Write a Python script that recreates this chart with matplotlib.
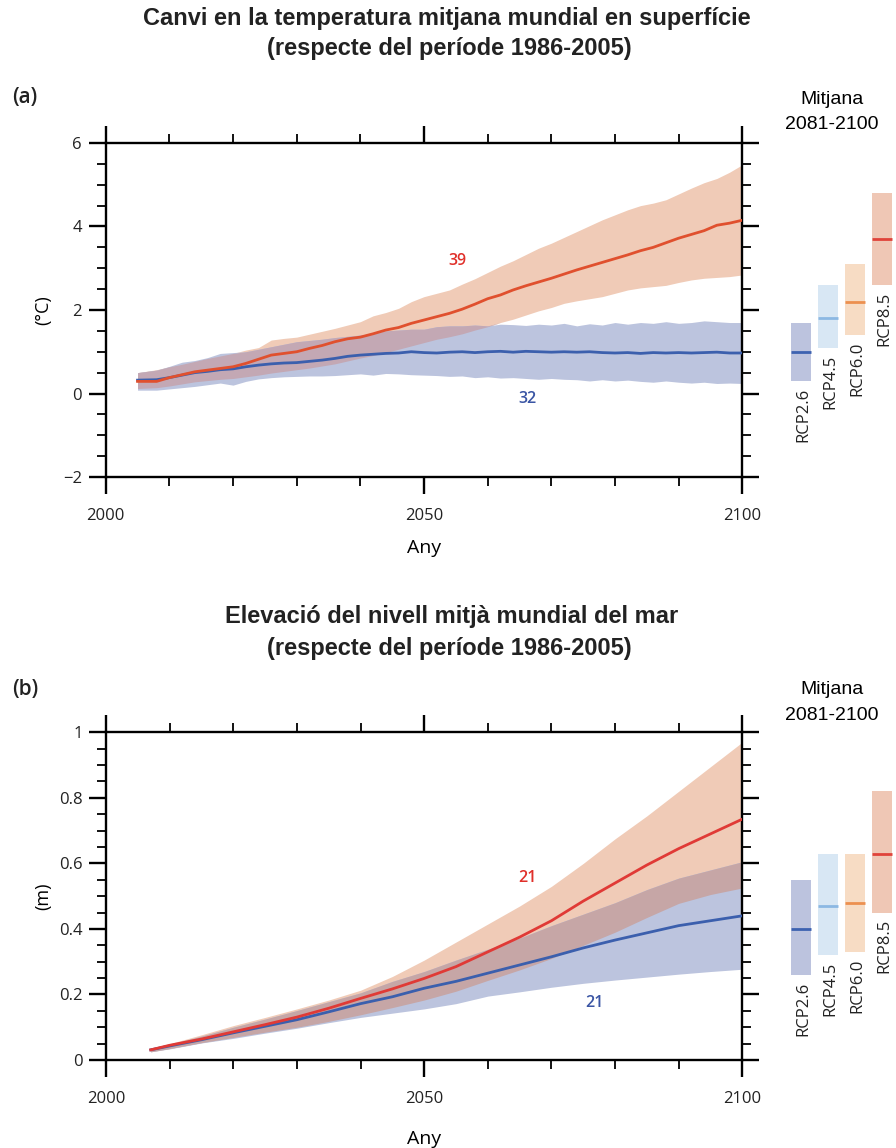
import matplotlib
matplotlib.use("Agg")
import matplotlib.pyplot as plt
import numpy as np
from matplotlib.ticker import MultipleLocator

# ---------------- DATA ----------------
# Panel (a): global mean surface temperature change (°C)
years_t = [2005] + list(range(2008, 2101, 2))
rcp85_t_mean = [0.29, 0.29, 0.38, 0.45, 0.52, 0.56, 0.60, 0.64, 0.72, 0.82, 0.92, 0.96, 1.00, 1.08, 1.15, 1.24,
                1.31, 1.35, 1.43, 1.52, 1.58, 1.68, 1.76, 1.84, 1.92, 2.02, 2.14, 2.27, 2.36, 2.48, 2.58, 2.67,
                2.76, 2.86, 2.96, 3.05, 3.14, 3.23, 3.32, 3.42, 3.50, 3.61, 3.72, 3.81, 3.90, 4.03, 4.08, 4.15]
rcp85_t_low = [0.12, 0.14, 0.18, 0.23, 0.28, 0.31, 0.34, 0.36, 0.40, 0.44, 0.49, 0.53, 0.57, 0.61, 0.66, 0.71,
               0.78, 0.85, 0.91, 0.98, 1.06, 1.14, 1.22, 1.30, 1.36, 1.43, 1.52, 1.60, 1.70, 1.78, 1.88, 1.98,
               2.06, 2.16, 2.22, 2.27, 2.32, 2.40, 2.48, 2.53, 2.56, 2.59, 2.66, 2.72, 2.76, 2.78, 2.80, 2.84]
rcp85_t_high = [0.50, 0.57, 0.64, 0.70, 0.77, 0.84, 0.90, 0.96, 1.04, 1.10, 1.28, 1.32, 1.35, 1.42, 1.49, 1.56,
                1.64, 1.72, 1.86, 1.94, 2.04, 2.20, 2.32, 2.40, 2.48, 2.62, 2.75, 2.90, 3.05, 3.18, 3.33, 3.48,
                3.60, 3.74, 3.88, 4.02, 4.16, 4.28, 4.40, 4.50, 4.56, 4.64, 4.78, 4.92, 5.05, 5.15, 5.30, 5.48]
rcp26_t_mean = [0.32, 0.33, 0.38, 0.44, 0.50, 0.53, 0.57, 0.59, 0.64, 0.68, 0.71, 0.73, 0.74, 0.77, 0.80, 0.84,
                0.89, 0.92, 0.94, 0.96, 0.97, 1.00, 0.98, 0.97, 0.99, 1.00, 0.98, 1.00, 1.01, 0.99, 1.01, 1.00,
                0.99, 1.00, 0.99, 1.00, 0.98, 0.97, 0.98, 0.96, 0.98, 0.97, 0.98, 0.97, 0.98, 0.99, 0.97, 0.97]
rcp26_t_low = [0.08, 0.08, 0.11, 0.14, 0.17, 0.21, 0.25, 0.20, 0.29, 0.35, 0.38, 0.40, 0.41, 0.42, 0.42, 0.43,
               0.45, 0.47, 0.44, 0.48, 0.47, 0.45, 0.44, 0.43, 0.41, 0.42, 0.38, 0.40, 0.37, 0.38, 0.36, 0.34,
               0.36, 0.34, 0.33, 0.30, 0.33, 0.30, 0.32, 0.29, 0.27, 0.30, 0.27, 0.25, 0.27, 0.24, 0.25, 0.24]
rcp26_t_high = [0.50, 0.56, 0.65, 0.75, 0.79, 0.86, 0.96, 0.98, 1.00, 1.06, 1.12, 1.18, 1.24, 1.27, 1.30, 1.34,
                1.37, 1.40, 1.44, 1.50, 1.52, 1.54, 1.54, 1.60, 1.62, 1.62, 1.64, 1.62, 1.66, 1.65, 1.63, 1.66,
                1.64, 1.68, 1.62, 1.67, 1.64, 1.70, 1.66, 1.70, 1.68, 1.72, 1.68, 1.70, 1.74, 1.72, 1.70, 1.70]

# Panel (b): global mean sea level rise (m)
years_s = [2007, 2010, 2015, 2020, 2025, 2030, 2035, 2040, 2045, 2050,
           2055, 2060, 2065, 2070, 2075, 2080, 2085, 2090, 2095, 2100]
rcp85_s_mean = [0.031, 0.045, 0.064, 0.086, 0.108, 0.131, 0.158, 0.188, 0.217, 0.249,
                0.285, 0.330, 0.375, 0.425, 0.485, 0.540, 0.595, 0.645, 0.690, 0.735]
rcp85_s_low = [0.025, 0.035, 0.053, 0.069, 0.085, 0.100, 0.118, 0.138, 0.160, 0.183,
               0.210, 0.243, 0.275, 0.310, 0.350, 0.390, 0.435, 0.478, 0.505, 0.525]
rcp85_s_high = [0.036, 0.050, 0.077, 0.105, 0.130, 0.156, 0.183, 0.213, 0.255, 0.305,
                0.360, 0.415, 0.470, 0.530, 0.600, 0.675, 0.745, 0.820, 0.895, 0.970]
rcp26_s_mean = [0.031, 0.043, 0.062, 0.083, 0.103, 0.123, 0.147, 0.172, 0.193, 0.219,
                0.240, 0.265, 0.290, 0.315, 0.342, 0.366, 0.388, 0.410, 0.425, 0.440]
rcp26_s_low = [0.025, 0.034, 0.052, 0.066, 0.082, 0.097, 0.114, 0.130, 0.143, 0.156,
               0.172, 0.195, 0.208, 0.222, 0.234, 0.244, 0.253, 0.262, 0.270, 0.277]
rcp26_s_high = [0.036, 0.048, 0.073, 0.100, 0.125, 0.151, 0.178, 0.205, 0.240, 0.270,
                0.305, 0.338, 0.372, 0.410, 0.445, 0.480, 0.520, 0.555, 0.580, 0.605]

# 2081-2100 means and likely ranges
scenarios = ["RCP2.6", "RCP4.5", "RCP6.0", "RCP8.5"]
t_bar_mean = [1.0, 1.8, 2.2, 3.7]
t_bar_low = [0.3, 1.1, 1.4, 2.6]
t_bar_high = [1.7, 2.6, 3.1, 4.8]
s_bar_mean = [0.40, 0.47, 0.48, 0.63]
s_bar_low = [0.26, 0.32, 0.33, 0.45]
s_bar_high = [0.55, 0.63, 0.63, 0.82]

n_models_t = ["39", "32"]
n_models_s = ["21", "21"]

# ---------------- STYLE ----------------
bar_fill = ["#bcc3de", "#d8e7f4", "#f7dcc4", "#efc7b5"]
bar_line = ["#3d62b0", "#8cb8e3", "#ec9050", "#e0433a"]
red_fill = "#f0cbb7"
blue_fill = "#bcc4de"
blue_line = "#3b5fad"

title_font = ["Liberation Sans Narrow", "Liberation Sans", "DejaVu Sans"]
label_font = ["Open Sans", "DejaVu Sans"]

fig = plt.figure(figsize=(8.96, 11.48), dpi=100)
W, H = 896.0, 1148.0


def ax_rect(l, t, r, b):
    return [l / W, 1 - b / H, (r - l) / W, (b - t) / H]


def style_axis(ax, ymaj, ymin):
    for s in ax.spines.values():
        s.set_linewidth(1.7)
    ax.xaxis.set_major_locator(MultipleLocator(50))
    ax.xaxis.set_minor_locator(MultipleLocator(10))
    ax.yaxis.set_major_locator(MultipleLocator(ymaj))
    ax.yaxis.set_minor_locator(MultipleLocator(ymin))
    ax.tick_params(which="both", direction="out", top=True, right=True, width=1.7, colors="black")
    ax.tick_params(which="major", length=12)
    ax.tick_params(which="minor", length=6.5, width=1.3)
    ax.tick_params(axis="x", which="major", pad=10, labelsize=12)
    ax.tick_params(axis="y", which="major", pad=5, labelsize=12)
    for lab in ax.get_xticklabels() + ax.get_yticklabels():
        lab.set_family(label_font)
        lab.set_color("#222222")


def draw_bands(ax, x, rl, rh, bl, bh, over_col):
    x = np.asarray(x)
    rl, rh, bl, bh = map(np.asarray, (rl, rh, bl, bh))
    ax.fill_between(x, rl, rh, color=red_fill, lw=0, zorder=1)
    ax.fill_between(x, bl, bh, color=blue_fill, lw=0, zorder=1)
    lo = np.maximum(rl, bl)
    hi = np.minimum(rh, bh)
    ax.fill_between(x, lo, np.maximum(hi, lo), color=over_col, lw=0, zorder=2)


def draw_bars(rect, ylim, mean, low, high):
    bx = fig.add_axes(rect)
    bx.set_xlim(-0.5, 3.5)
    bx.set_ylim(*ylim)
    bx.axis("off")
    idx = np.arange(len(scenarios))
    bx.bar(idx, np.array(high) - np.array(low), bottom=low, width=0.74, color=bar_fill, lw=0)
    bx.hlines(mean, idx - 0.37, idx + 0.37, colors=bar_line, lw=2)
    span = ylim[1] - ylim[0]
    for i, name in enumerate(scenarios):
        bx.text(i + 0.1, low[i] - span * 0.02, name, rotation=90, ha="center", va="top",
                fontsize=12, family=label_font, color="#222222")
    return bx


# ---------------- Panel (a) ----------------
ax1 = fig.add_axes(ax_rect(105.7, 143, 742.3, 477))
draw_bands(ax1, years_t, rcp85_t_low, rcp85_t_high, rcp26_t_low, rcp26_t_high, "#c3a8b4")
ax1.plot(years_t, rcp26_t_mean, color=blue_line, lw=2, zorder=3)
ax1.plot(years_t, rcp85_t_mean, color="#e0502e", lw=2, zorder=3)
ax1.set_xlim(2000, 2100)
ax1.set_ylim(-2, 6)
style_axis(ax1, 2, 0.5)
ax1.set_xticks([2000, 2050, 2100])
ax1.set_xlabel("Any", fontsize=14, family=label_font, labelpad=11)
ax1.set_ylabel("(°C)", fontsize=13, family=label_font, labelpad=8)
ax1.text(2055.3, 3.17, n_models_t[0], color="#e0302a", fontsize=11.5, ha="center", va="center",
         family=label_font, fontweight="semibold")
ax1.text(2066.2, -0.13, n_models_t[1], color="#3a55a4", fontsize=11.5, ha="center", va="center",
         family=label_font, fontweight="semibold")

draw_bars(ax_rect(787.5, 143, 895.5, 477), (-2, 6), t_bar_mean, t_bar_low, t_bar_high)

fig.text(447 / W, 1 - 18 / H, "Canvi en la temperatura mitjana mundial en superfície",
         ha="center", va="center", fontsize=17, fontweight="bold", family=title_font, color="#222222")
fig.text(449 / W, 1 - 48 / H, "(respecte del període 1986-2005)",
         ha="center", va="center", fontsize=17, fontweight="bold", family=title_font, color="#222222")
fig.text(12 / W, 1 - 97 / H, "(a)", ha="left", va="center", fontsize=15, family=label_font,
         fontweight="semibold", color="#222222")
fig.text(832 / W, 1 - 100 / H, "Mitjana", ha="center", va="center", fontsize=14, family=title_font)
fig.text(832 / W, 1 - 125 / H, "2081-2100", ha="center", va="center", fontsize=14, family=title_font)

# ---------------- Panel (b) ----------------
ax2 = fig.add_axes(ax_rect(106.2, 732.3, 742.3, 1060))
draw_bands(ax2, years_s, rcp85_s_low, rcp85_s_high, rcp26_s_low, rcp26_s_high, "#c6a6a6")
ax2.plot(years_s, rcp26_s_mean, color=blue_line, lw=2, zorder=3)
ax2.plot(years_s, rcp85_s_mean, color="#e03a36", lw=2, zorder=3)
ax2.set_xlim(2000, 2100)
ax2.set_ylim(0, 1)
style_axis(ax2, 0.2, 0.05)
ax2.set_xticks([2000, 2050, 2100])
ax2.set_yticks([0, 0.2, 0.4, 0.6, 0.8, 1])
ax2.set_yticklabels(["0", "0.2", "0.4", "0.6", "0.8", "1"])
for lab in ax2.get_yticklabels():
    lab.set_family(label_font)
    lab.set_color("#222222")
ax2.set_xlabel("Any", fontsize=14, family=label_font, labelpad=17)
ax2.set_ylabel("(m)", fontsize=13, family=label_font, labelpad=5)
ax2.text(2066.2, 0.555, n_models_s[0], color="#e0302a", fontsize=11.5, ha="center", va="center",
         family=label_font, fontweight="semibold")
ax2.text(2076.7, 0.174, n_models_s[1], color="#3a55a4", fontsize=11.5, ha="center", va="center",
         family=label_font, fontweight="semibold")

draw_bars(ax_rect(787.5, 732.3, 895.5, 1060), (0, 1), s_bar_mean, s_bar_low, s_bar_high)

fig.text(452 / W, 1 - 617 / H, "Elevació del nivell mitjà mundial del mar",
         ha="center", va="center", fontsize=17, fontweight="bold", family=title_font, color="#222222")
fig.text(449 / W, 1 - 648 / H, "(respecte del període 1986-2005)",
         ha="center", va="center", fontsize=17, fontweight="bold", family=title_font, color="#222222")
fig.text(12 / W, 1 - 690 / H, "(b)", ha="left", va="center", fontsize=15, family=label_font,
         fontweight="semibold", color="#222222")
fig.text(832 / W, 1 - 690 / H, "Mitjana", ha="center", va="center", fontsize=14, family=title_font)
fig.text(832 / W, 1 - 716 / H, "2081-2100", ha="center", va="center", fontsize=14, family=title_font)

fig.savefig("out.png", dpi=100)
